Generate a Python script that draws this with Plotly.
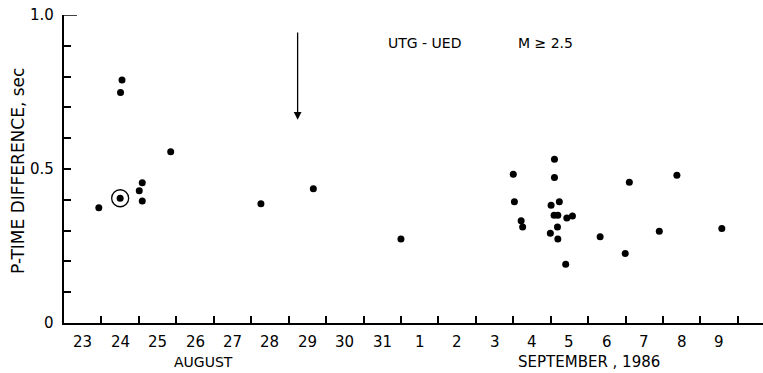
import plotly.graph_objects as go

# Time in days since 23 August 1986 00:00, P-time difference in seconds
time_days = [0.93, 1.50, 1.55, 1.51, 2.01, 2.09, 2.09, 2.85, 5.26, 6.66, 9.00,
             12.00, 12.03, 12.21, 12.25, 13.10, 13.10, 13.01, 13.23, 13.09, 13.19,
             13.43, 13.58, 13.18, 12.99, 13.19, 13.40, 14.32, 14.99, 15.10, 15.90,
             16.37, 17.57]
p_diff = [0.374, 0.405, 0.789, 0.748, 0.429, 0.455, 0.396, 0.556, 0.387, 0.436, 0.273,
          0.483, 0.394, 0.332, 0.312, 0.532, 0.472, 0.382, 0.394, 0.350, 0.350,
          0.341, 0.347, 0.312, 0.291, 0.273, 0.191, 0.280, 0.226, 0.457, 0.298,
          0.480, 0.307]

circled_time = [1.50]
circled_value = [0.405]

arrow_time = 6.24
arrow_top = 0.948
arrow_tip = 0.66

day_labels = ["23", "24", "25", "26", "27", "28", "29", "30", "31",
              "1", "2", "3", "4", "5", "6", "7", "8", "9"]
day_centers = [i + 0.5 for i in range(len(day_labels))]
day_bounds = list(range(1, 19))

y_ticks = [round(0.1 * i, 1) for i in range(1, 10)]
y_label_vals = [0, 0.5, 1.0]
y_label_text = ["0", "0.5", "1.0"]

FONT = "DejaVu Sans"
X_RANGE = [0, 18.67]

fig = go.Figure()
fig.add_trace(go.Scatter(x=time_days, y=p_diff, mode="markers",
                         marker=dict(color="black", size=7), showlegend=False))
fig.add_trace(go.Scatter(x=circled_time, y=circled_value, mode="markers",
                         marker=dict(color="rgba(0,0,0,0)", size=17,
                                     line=dict(color="black", width=1.3)),
                         showlegend=False))

fig.update_layout(
    width=763, height=373,
    margin=dict(l=64, r=0, t=15, b=50),
    paper_bgcolor="white", plot_bgcolor="white",
    font=dict(family=FONT, color="black", size=15),
    xaxis=dict(range=X_RANGE, showgrid=False, zeroline=False,
               showline=True, linecolor="black", linewidth=1.5,
               tickmode="array", tickvals=day_bounds, showticklabels=False,
               ticks="inside", ticklen=7, tickcolor="black", tickwidth=2),
    yaxis=dict(range=[0, 1.0], showgrid=False, zeroline=False,
               showline=True, linecolor="black", linewidth=1.5,
               tickmode="array", tickvals=y_ticks, showticklabels=False,
               ticks="inside", ticklen=7, tickcolor="black", tickwidth=2),
)

# x day labels
for xc, lab in zip(day_centers, day_labels):
    fig.add_annotation(text=lab, x=xc, xref="x", y=-(342 - 323) / 308, yref="paper",
                       showarrow=False, font=dict(size=15), xanchor="center",
                       yanchor="middle")
# y value labels
for yv, lab in zip(y_label_vals, y_label_text):
    fig.add_annotation(text=lab, x=-(64 - 56) / 699, xref="paper", y=yv, yref="y",
                       showarrow=False, font=dict(size=15), xanchor="right",
                       yanchor="middle")

# longer top tick at 1.0
fig.add_shape(type="line", xref="paper", yref="y", x0=0, x1=13 / 699,
              y0=1.0, y1=1.0, line=dict(color="black", width=1.5))

fig.add_annotation(x=arrow_time, y=arrow_tip, ax=arrow_time, ay=arrow_top,
                   xref="x", yref="y", axref="x", ayref="y",
                   showarrow=True, arrowhead=2, arrowsize=1.2, arrowwidth=1.3,
                   arrowcolor="black", text="")

fig.add_annotation(text="P-TIME DIFFERENCE, sec", xref="paper", yref="paper",
                   x=-(64 - 18) / 699, y=(323 - 171) / 308, textangle=-90,
                   showarrow=False, font=dict(size=17), xanchor="center", yanchor="middle")
fig.add_annotation(text="AUGUST", xref="x", yref="paper", x=3.72, y=-(362 - 323) / 308,
                   showarrow=False, font=dict(size=14), xanchor="center", yanchor="middle")
fig.add_annotation(text="SEPTEMBER , 1986", xref="x", yref="paper", x=14.03,
                   y=-(362 - 323) / 308, showarrow=False, font=dict(size=15),
                   xanchor="center", yanchor="middle")
fig.add_annotation(text="UTG - UED", xref="paper", yref="paper", x=(424 - 64) / 699,
                   y=(323 - 43) / 308, showarrow=False, font=dict(size=14),
                   xanchor="center", yanchor="middle")
fig.add_annotation(text="M ≥ 2.5", xref="paper", yref="paper", x=(545 - 64) / 699,
                   y=(323 - 43) / 308, showarrow=False, font=dict(size=14),
                   xanchor="center", yanchor="middle")

fig.write_html("out.html")
